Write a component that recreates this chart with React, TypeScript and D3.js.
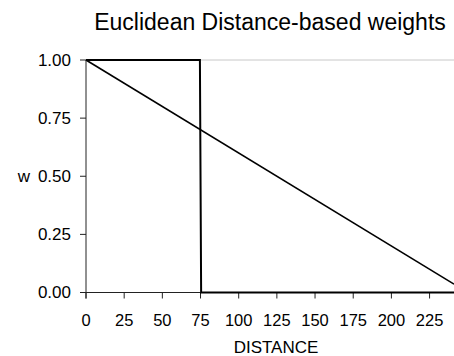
import React from "react";
import * as d3 from "d3";

const title = "Euclidean Distance-based weights";
const xTicks = [0, 25, 50, 75, 100, 125, 150, 175, 200, 225];
const yTicks = [0, 0.25, 0.5, 0.75, 1.0];
const linearDist = [0, 241];
const linearW = [1, 0.036];
const stepDist = [0, 74.6, 75.4, 241];
const stepW = [1, 1, 0, 0];

export default function App() {
  const W = 454, H = 356;
  const x = d3.scaleLinear().domain([0, 241]).range([86, 454]);
  const y = d3.scaleLinear().domain([0, 1]).range([292.5, 60]);
  const line = d3.line<[number, number]>().x(d => x(d[0])).y(d => y(d[1]));
  const lin = linearDist.map((d, i) => [d, linearW[i]] as [number, number]);
  const step = stepDist.map((d, i) => [d, stepW[i]] as [number, number]);
  const font = "'Liberation Sans', Arial, sans-serif";
  return (
    <svg width={W} height={H} style={{ position: "absolute", left: 0, top: 0, background: "#fff" }} fontFamily={font}>
      <rect width={W} height={H} fill="#fff" />
      <text x={270} y={30} textAnchor="middle" fontSize={23} fill="#000">{title}</text>
      <line x1={x(0)} x2={454} y1={y(1)} y2={y(1)} stroke="#c8c8c8" strokeWidth={1} />
      <line x1={x(0)} x2={x(0)} y1={y(1)} y2={y(0) + 6} stroke="#222" strokeWidth={1} />
      {yTicks.map(t => (
        <g key={t}>
          <line x1={x(0) - 6} x2={x(0)} y1={y(t)} y2={y(t)} stroke="#222" />
          <text x={71} y={y(t)} dy="0.35em" textAnchor="end" fontSize={17} fill="#000">{t.toFixed(2)}</text>
        </g>
      ))}
      <text x={24} y={y(0.5)} dy="0.35em" textAnchor="middle" fontSize={17} fill="#000">w</text>
      <line x1={x(0) - 6} x2={454} y1={y(0)} y2={y(0)} stroke="#222" strokeWidth={1} />
      {xTicks.map(t => (
        <g key={t}>
          <line x1={x(t)} x2={x(t)} y1={y(0)} y2={y(0) + 6} stroke="#222" />
          <text x={x(t)} y={326} textAnchor="middle" fontSize={16.5} fill="#000">{t}</text>
        </g>
      ))}
      <text x={276} y={353} textAnchor="middle" fontSize={17} fill="#000">DISTANCE</text>
      <path d={line(step) || ""} fill="none" stroke="#000" strokeWidth={2} />
      <path d={line(lin) || ""} fill="none" stroke="#000" strokeWidth={1.6} />
    </svg>
  );
}
